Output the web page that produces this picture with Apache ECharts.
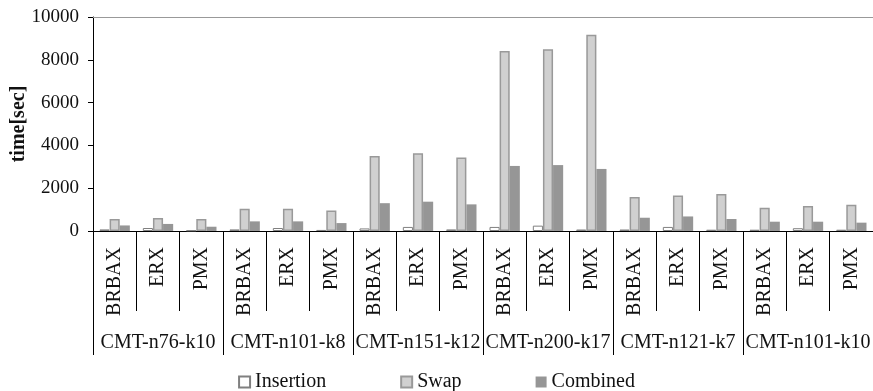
<!DOCTYPE html>
<html>
<head>
<meta charset="utf-8">
<script src="https://cdn.jsdelivr.net/npm/echarts@6/dist/echarts.min.js"></script>
<style>html,body{margin:0;padding:0;background:#fff}#c{width:873px;height:391px}</style>
</head>
<body>
<div id="c"></div>
<script>
const groups = ['CMT-n76-k10','CMT-n101-k8','CMT-n151-k12','CMT-n200-k17','CMT-n121-k7','CMT-n101-k10'];
const methods = ['BRBAX','ERX','PMX'];
const categories = [];
groups.forEach(g => methods.forEach(m => categories.push(m)));
const insertion = [75,140,30, 75,140,50, 120,190,75, 190,250,70, 70,190,60, 60,130,60];
const swap = [560,610,560, 1040,1040,960, 3500,3630,3440, 8410,8490,9170, 1590,1660,1730, 1090,1170,1230];
const combined = [260,330,200, 450,450,370, 1300,1370,1245, 3040,3080,2900, 620,680,560, 435,435,390];
const yTicks = [0,2000,4000,6000,8000,10000];

const FONT = "'Liberation Serif','Times New Roman',serif";
const chart = echarts.init(document.getElementById('c'), null, {renderer:'canvas'});
chart.setOption({
  animation:false,
  textStyle:{fontFamily:FONT},
  grid:{left:93,right:0,top:17,bottom:160,containLabel:false,outerBoundsMode:'none'},
  legend:{
    top:367, left:'center', itemWidth:11, itemHeight:11, itemGap:74,
    icon:'rect',
    textStyle:{fontFamily:FONT,fontSize:20,color:'#111'},
    data:['Insertion','Swap','Combined']
  },
  xAxis:[
    {type:'category',data:categories,position:'bottom',
     axisLine:{lineStyle:{color:'#000',width:1}},
     axisTick:{show:true,interval:0,length:80,lineStyle:{color:'#000'}},
     axisLabel:{interval:0,rotate:90,margin:16,fontSize:20,color:'#111',fontFamily:FONT}},
    {type:'category',data:groups,position:'bottom',
     axisLine:{show:false},
     axisTick:{show:true,interval:0,length:124,lineStyle:{color:'#000'}},
     axisLabel:{interval:0,margin:102,fontSize:20,color:'#111',fontFamily:FONT}},
    {type:'category',data:categories,position:'top',
     axisLine:{show:true,lineStyle:{color:'#999',width:1}},
     axisTick:{show:false},axisLabel:{show:false}}
  ],
  yAxis:{type:'value',min:yTicks[0],max:yTicks[yTicks.length-1],interval:2000,
    name:'time[sec]',nameLocation:'middle',nameGap:64,nameMoveOverlap:false,
    nameTextStyle:{fontFamily:FONT,fontSize:20,fontWeight:'bold',color:'#111'},
    axisLine:{show:true,lineStyle:{color:'#000'}},
    axisTick:{show:true,length:5,lineStyle:{color:'#000'}},
    axisLabel:{fontSize:19,color:'#111',margin:14,fontFamily:FONT,formatter:v=>String(v)},
    splitLine:{show:false}},
  series:[
    {name:'Insertion',type:'bar',data:insertion,barGap:'0%',barCategoryGap:'30%',
     itemStyle:{color:'#ffffff',borderColor:'#808080',borderWidth:1}},
    {name:'Swap',type:'bar',data:swap,
     itemStyle:{color:'#d0d0d0',borderColor:'#999',borderWidth:1.5}},
    {name:'Combined',type:'bar',data:combined,
     itemStyle:{color:'#969696'}}
  ]
});
</script>
</body>
</html>
